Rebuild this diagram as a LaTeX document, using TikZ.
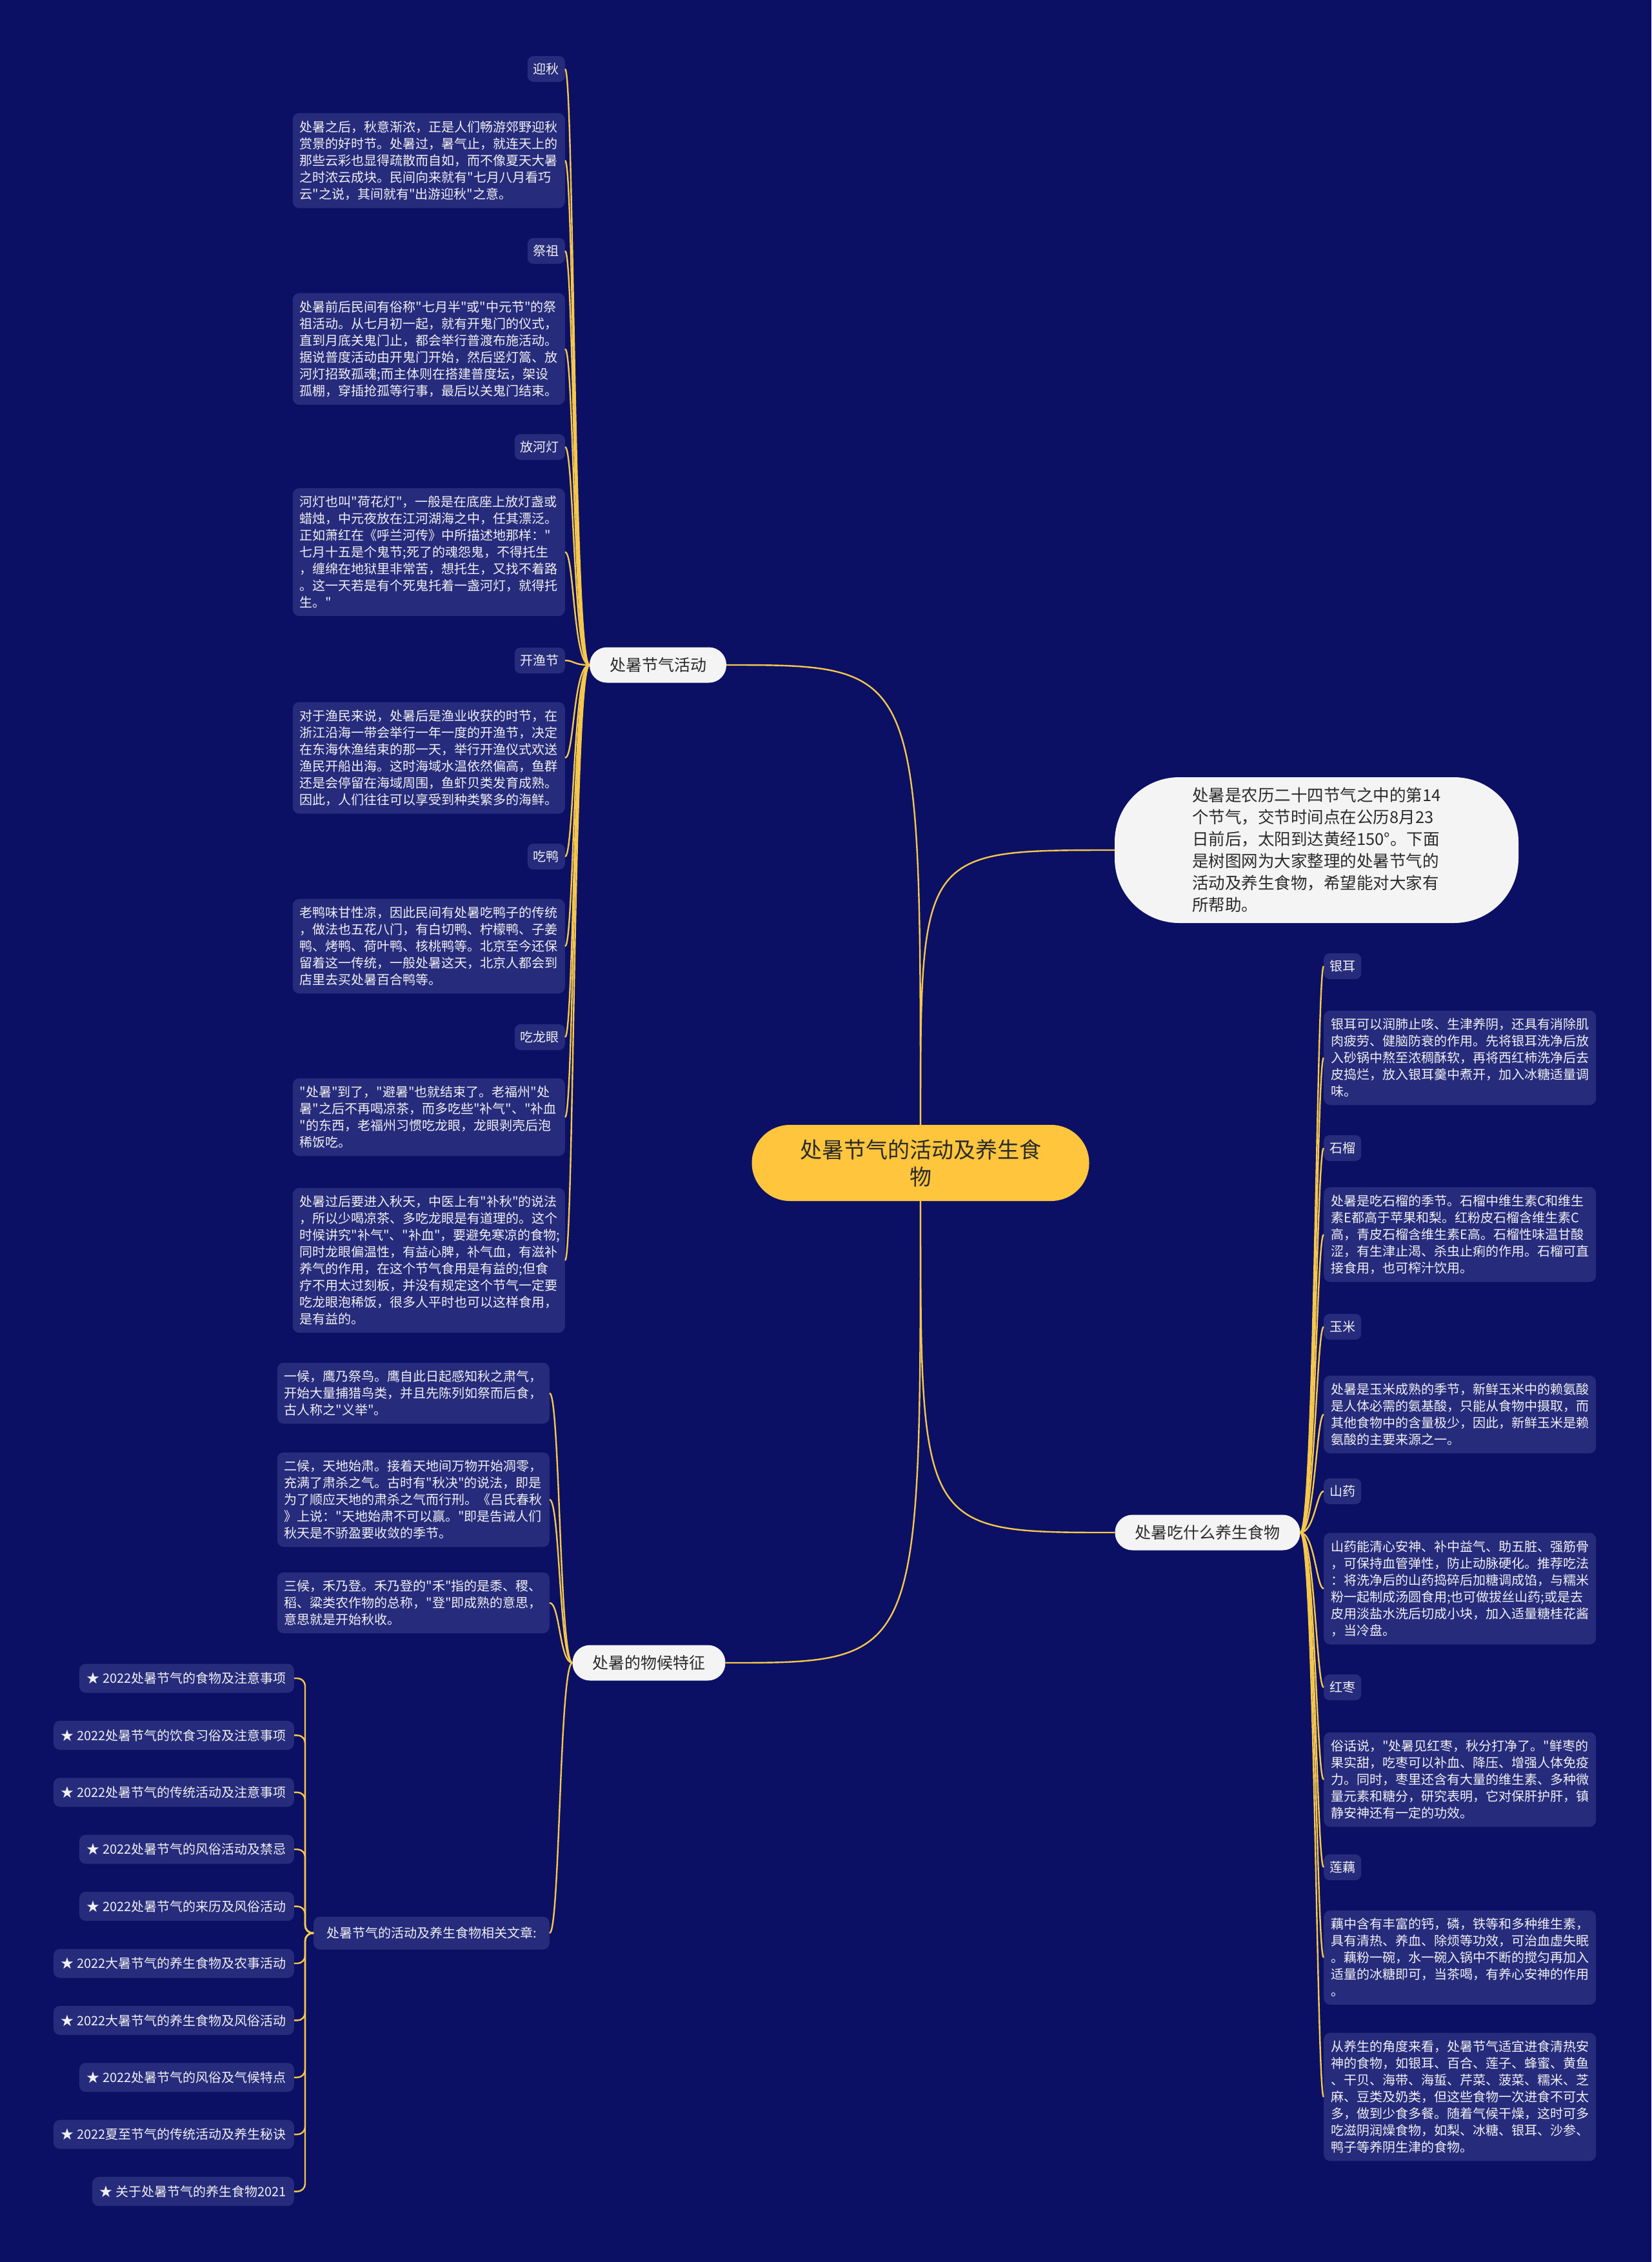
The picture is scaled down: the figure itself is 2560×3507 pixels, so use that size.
\documentclass[tikz,border=0pt]{standalone}
\usepackage{fontspec}
\setmainfont{Noto Sans CJK SC}
\newfontfamily\cjk{Noto Sans CJK SC}
\definecolor{bgnavy}{HTML}{0C1064}
\definecolor{boxnavy}{HTML}{262B7C}
\definecolor{linkgold}{HTML}{F5C84C}
\definecolor{rootgold}{HTML}{FFC53D}
\definecolor{paper}{HTML}{F4F4F4}
\definecolor{ink}{HTML}{2B2B2B}

\begin{document}
\begin{tikzpicture}[x=1pt,y=-1pt,
  linkline/.style={draw=linkgold,line width=2.4pt},
  sublabel/.style={fill=boxnavy,text=white!94!black,rounded corners=9pt,font=\cjk\fontsize{20}{24}\selectfont,inner xsep=9pt,inner ysep=0pt,minimum height=40pt},
  leafbox/.style={fill=boxnavy,text=white!94!black,rounded corners=10pt,font=\cjk\fontsize{20}{26}\selectfont,text width=400pt,align=left,inner xsep=11pt,inner ysep=12pt},
  linkbox/.style={fill=boxnavy,text=white!94!black,rounded corners=10pt,font=\cjk\fontsize{20}{24}\selectfont,inner xsep=12pt,inner ysep=0pt,minimum height=45pt},
  topicbox/.style={fill=paper,text=ink,rounded corners=27pt,font=\cjk\fontsize{25}{30}\selectfont,inner xsep=31pt,inner ysep=0pt,minimum height=55pt},
  rootbox/.style={fill=rootgold,text=ink,rounded corners=59pt,font=\cjk\fontsize{34}{42}\selectfont,align=center,minimum width=523pt,minimum height=118pt},
  introbox/.style={fill=paper,text=ink,rounded corners=100pt,font=\cjk\fontsize{25.5}{34}\selectfont,align=left,minimum width=626pt,minimum height=226pt}]
\useasboundingbox (0,0) rectangle (2560,3507);
\fill[bgnavy] (0,0) rectangle (2560,3507);

% root and topics
\node[rootbox] (root) at (1427,1803) {处暑节气的活动及养生食\\物};
\node[topicbox] (act) at (1020,1031) {处暑节气活动};
\node[introbox] (intro) at (2041,1318) {处暑是农历二十四节气之中的第14\\个节气，交节时间点在公历8月23\\日前后，太阳到达黄经150°。下面\\是树图网为大家整理的处暑节气的\\活动及养生食物，希望能对大家有\\所帮助。};
\node[topicbox] (food) at (1872,2376) {处暑吃什么养生食物};
\node[topicbox] (phen) at (1006,2578) {处暑的物候特征};

\draw[linkline] (root.north) .. controls (root.north |- act.east) .. (act.east);
\draw[linkline] (root.north) .. controls (root.north |- intro.west) .. (intro.west);
\draw[linkline] (root.south) .. controls (root.south |- food.west) .. (food.west);
\draw[linkline] (root.south) .. controls (root.south |- phen.east) .. (phen.east);

% activities
\node[sublabel,anchor=east] (yq) at (876,107) {迎秋};
\node[leafbox,anchor=east] (yqt) at (876,249) {处暑之后，秋意渐浓，正是人们畅游郊野迎秋\\赏景的好时节。处暑过，暑气止，就连天上的\\那些云彩也显得疏散而自如，而不像夏天大暑\\之时浓云成块。民间向来就有"七月八月看巧\\云"之说，其间就有"出游迎秋"之意。};
\node[sublabel,anchor=east] (jz) at (876,389) {祭祖};
\node[leafbox,anchor=east] (jzt) at (876,541) {处暑前后民间有俗称"七月半"或"中元节"的祭\\祖活动。从七月初一起，就有开鬼门的仪式，\\直到月底关鬼门止，都会举行普渡布施活动。\\据说普度活动由开鬼门开始，然后竖灯篙、放\\河灯招致孤魂;而主体则在搭建普度坛，架设\\孤棚，穿插抢孤等行事，最后以关鬼门结束。};
\node[sublabel,anchor=east] (hd) at (876,693) {放河灯};
\node[leafbox,anchor=east] (hdt) at (876,856) {河灯也叫"荷花灯"，一般是在底座上放灯盏或\\蜡烛，中元夜放在江河湖海之中，任其漂泛。\\正如萧红在《呼兰河传》中所描述地那样："\\七月十五是个鬼节;死了的魂怨鬼，不得托生\\，缠绵在地狱里非常苦，想托生，又找不着路\\。这一天若是有个死鬼托着一盏河灯，就得托\\生。"};
\node[sublabel,anchor=east] (ky) at (876,1024) {开渔节};
\node[leafbox,anchor=east] (kyt) at (876,1175) {对于渔民来说，处暑后是渔业收获的时节，在\\浙江沿海一带会举行一年一度的开渔节，决定\\在东海休渔结束的那一天，举行开渔仪式欢送\\渔民开船出海。这时海域水温依然偏高，鱼群\\还是会停留在海域周围，鱼虾贝类发育成熟。\\因此，人们往往可以享受到种类繁多的海鲜。};
\node[sublabel,anchor=east] (cy) at (876,1328) {吃鸭};
\node[leafbox,anchor=east] (cyt) at (876,1467) {老鸭味甘性凉，因此民间有处暑吃鸭子的传统\\，做法也五花八门，有白切鸭、柠檬鸭、子姜\\鸭、烤鸭、荷叶鸭、核桃鸭等。北京至今还保\\留着这一传统，一般处暑这天，北京人都会到\\店里去买处暑百合鸭等。};
\node[sublabel,anchor=east] (ly) at (876,1608) {吃龙眼};
\node[leafbox,anchor=east] (lyt) at (876,1732) {"处暑"到了，"避暑"也就结束了。老福州"处\\暑"之后不再喝凉茶，而多吃些"补气"、"补血\\"的东西，老福州习惯吃龙眼，龙眼剥壳后泡\\稀饭吃。};
\node[leafbox,anchor=east] (lyu) at (876,1954) {处暑过后要进入秋天，中医上有"补秋"的说法\\，所以少喝凉茶、多吃龙眼是有道理的。这个\\时候讲究"补气"、"补血"，要避免寒凉的食物;\\同时龙眼偏温性，有益心脾，补气血，有滋补\\养气的作用，在这个节气食用是有益的;但食\\疗不用太过刻板，并没有规定这个节气一定要\\吃龙眼泡稀饭，很多人平时也可以这样食用，\\是有益的。};
\foreach \n in {yq,yqt,jz,jzt,hd,hdt,ky,kyt,cy,cyt,ly,lyt,lyu}
  \draw[linkline] (act.west) .. controls ([xshift=-25pt]act.west) and ([xshift=14pt]\n.east) .. (\n.east);

% food
\node[sublabel,anchor=west] (ye) at (2052,1498) {银耳};
\node[leafbox,anchor=west] (yet) at (2052,1640) {银耳可以润肺止咳、生津养阴，还具有消除肌\\肉疲劳、健脑防衰的作用。先将银耳洗净后放\\入砂锅中熬至浓稠酥软，再将西红柿洗净后去\\皮捣烂，放入银耳羹中煮开，加入冰糖适量调\\味。};
\node[sublabel,anchor=west] (sl) at (2052,1780) {石榴};
\node[leafbox,anchor=west] (slt) at (2052,1914) {处暑是吃石榴的季节。石榴中维生素C和维生\\素E都高于苹果和梨。红粉皮石榴含维生素C\\高，青皮石榴含维生素E高。石榴性味温甘酸\\涩，有生津止渴、杀虫止痢的作用。石榴可直\\接食用，也可榨汁饮用。};
\node[sublabel,anchor=west] (ym) at (2052,2057) {玉米};
\node[leafbox,anchor=west] (ymt) at (2052,2193) {处暑是玉米成熟的季节，新鲜玉米中的赖氨酸\\是人体必需的氨基酸，只能从食物中摄取，而\\其他食物中的含量极少，因此，新鲜玉米是赖\\氨酸的主要来源之一。};
\node[sublabel,anchor=west] (sy) at (2052,2312) {山药};
\node[leafbox,anchor=west] (syt) at (2052,2463) {山药能清心安神、补中益气、助五脏、强筋骨\\，可保持血管弹性，防止动脉硬化。推荐吃法\\：将洗净后的山药捣碎后加糖调成馅，与糯米\\粉一起制成汤圆食用;也可做拔丝山药;或是去\\皮用淡盐水洗后切成小块，加入适量糖桂花酱\\，当冷盘。};
\node[sublabel,anchor=west] (hz) at (2052,2616) {红枣};
\node[leafbox,anchor=west] (hzt) at (2052,2759) {俗话说，"处暑见红枣，秋分打净了。"鲜枣的\\果实甜，吃枣可以补血、降压、增强人体免疫\\力。同时，枣里还含有大量的维生素、多种微\\量元素和糖分，研究表明，它对保肝护肝，镇\\静安神还有一定的功效。};
\node[sublabel,anchor=west] (lo) at (2052,2895) {莲藕};
\node[leafbox,anchor=west] (lot) at (2052,3035) {藕中含有丰富的钙，磷，铁等和多种维生素，\\具有清热、养血、除烦等功效，可治血虚失眠\\。藕粉一碗，水一碗入锅中不断的搅匀再加入\\适量的冰糖即可，当茶喝，有养心安神的作用\\。};
\node[leafbox,anchor=west] (yst) at (2052,3251) {从养生的角度来看，处暑节气适宜进食清热安\\神的食物，如银耳、百合、莲子、蜂蜜、黄鱼\\、干贝、海带、海蜇、芹菜、菠菜、糯米、芝\\麻、豆类及奶类，但这些食物一次进食不可太\\多，做到少食多餐。随着气候干燥，这时可多\\吃滋阴润燥食物，如梨、冰糖、银耳、沙参、\\鸭子等养阴生津的食物。};
\foreach \n in {ye,yet,sl,slt,ym,ymt,sy,syt,hz,hzt,lo,lot,yst}
  \draw[linkline] (food.east) .. controls ([xshift=22pt]food.east) and ([xshift=-11pt]\n.west) .. (\n.west);

% phenology
\node[leafbox,anchor=east] (h1) at (852,2160) {一候，鹰乃祭鸟。鹰自此日起感知秋之肃气，\\开始大量捕猎鸟类，并且先陈列如祭而后食，\\古人称之"义举"。};
\node[leafbox,anchor=east] (h2) at (852,2325) {二候，天地始肃。接着天地间万物开始凋零，\\充满了肃杀之气。古时有"秋决"的说法，即是\\为了顺应天地的肃杀之气而行刑。《吕氏春秋\\》上说："天地始肃不可以赢。"即是告诫人们\\秋天是不骄盈要收敛的季节。};
\node[leafbox,anchor=east] (h3) at (852,2485) {三候，禾乃登。禾乃登的"禾"指的是黍、稷、\\稻、粱类农作物的总称，"登"即成熟的意思，\\意思就是开始秋收。};
\node[linkbox,anchor=east,inner xsep=20pt,minimum height=51pt] (rel) at (852,2997) {处暑节气的活动及养生食物相关文章:};
\foreach \n in {h1,h2,h3,rel}
  \draw[linkline] (phen.west) .. controls ([xshift=-20pt]phen.west) and ([xshift=16pt]\n.east) .. (\n.east);

% related articles
\foreach \t [count=\i] in {★ 2022处暑节气的食物及注意事项,★ 2022处暑节气的饮食习俗及注意事项,★ 2022处暑节气的传统活动及注意事项,★ 2022处暑节气的风俗活动及禁忌,★ 2022处暑节气的来历及风俗活动,★ 2022大暑节气的养生食物及农事活动,★ 2022大暑节气的养生食物及风俗活动,★ 2022处暑节气的风俗及气候特点,★ 2022夏至节气的传统活动及养生秘诀,★ 关于处暑节气的养生食物2021}{
  \node[linkbox,anchor=east] (art\i) at (456,{2602+88.4*(\i-1)}) {\t};
  \draw[linkline,rounded corners=12pt] (rel.west) -- ++(-13,0) |- (art\i.east);
}
\end{tikzpicture}
\end{document}
